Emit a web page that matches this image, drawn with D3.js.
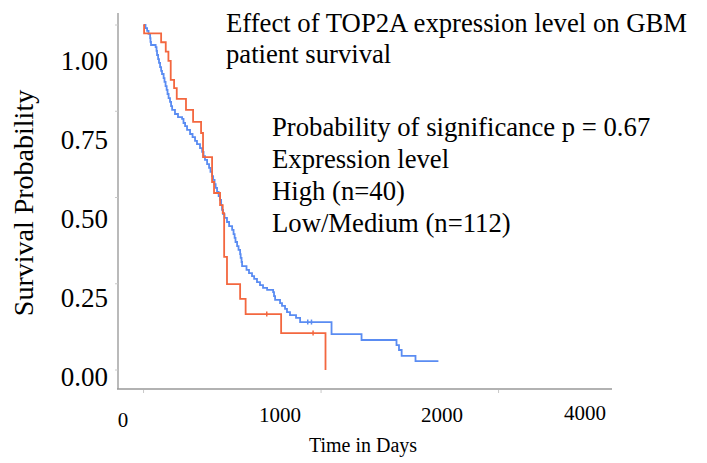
<!DOCTYPE html>
<html>
<head>
<meta charset="utf-8">
<script src="https://cdn.jsdelivr.net/npm/d3@7"></script>
<style>
  html, body { margin: 0; padding: 0; background: #fff; }
  svg { display: block; }
  text { font-family: "Liberation Serif", "Times New Roman", serif; fill: #000; }
</style>
</head>
<body>
<svg id="chart" width="707" height="463"></svg>
<script>
// ---- data ----
const titleLines = ["Effect of TOP2A expression level on GBM", "patient survival"];
const infoLines = ["Probability of significance p = 0.67", "Expression level", "High (n=40)", "Low/Medium (n=112)"];
const yTickValues = [0, 0.25, 0.5, 0.75, 1];
const yTickLabels = ["0.00", "0.25", "0.50", "0.75", "1.00"];
const xTickValues = [0, 1000, 2000];
const xTickLabels = ["0", "1000", "2000", "4000"];

// High expression (red) Kaplan-Meier steps: time (days) and survival after the event
const highTimes = [0, 3, 99, 125, 140, 153, 172, 187, 239, 279, 324, 335, 386, 397, 431, 446, 454, 470, 544, 575, 775, 1025];
const highSurv  = [1, 0.976, 0.95, 0.923, 0.896, 0.841, 0.817, 0.786, 0.754, 0.719, 0.687, 0.617, 0.545, 0.513, 0.478, 0.455, 0.328, 0.249, 0.206, 0.162, 0.107, 0];
const highCensorTimes = [694, 955];

// Low/Medium expression (blue)
const lowTimes = [0, 11, 20, 28, 37, 39, 42, 68, 73, 76, 82, 87, 93, 99, 104, 113, 118, 124, 130, 135, 141, 149, 155, 161, 177, 194, 217, 225, 234, 245, 262, 276, 290, 301, 318, 330, 338, 346, 358, 369, 377, 386, 392, 400, 406, 414, 423, 431, 437, 442, 448, 456, 470, 482, 499, 507, 513, 518, 527, 535, 544, 547, 552, 555, 580, 594, 611, 623, 639, 656, 673, 696, 730, 735, 741, 769, 780, 797, 808, 825, 859, 882, 1059, 1228, 1425, 1439, 1454, 1532, 1661];
const lowSurv  = [1, 0.991, 0.983, 0.974, 0.962, 0.951, 0.942, 0.936, 0.925, 0.913, 0.901, 0.890, 0.878, 0.867, 0.858, 0.846, 0.835, 0.823, 0.812, 0.800, 0.788, 0.777, 0.765, 0.754, 0.742, 0.733, 0.728, 0.716, 0.707, 0.696, 0.684, 0.675, 0.664, 0.655, 0.643, 0.632, 0.620, 0.609, 0.597, 0.586, 0.574, 0.562, 0.551, 0.539, 0.528, 0.516, 0.504, 0.493, 0.478, 0.464, 0.452, 0.441, 0.429, 0.417, 0.406, 0.394, 0.383, 0.371, 0.359, 0.348, 0.336, 0.325, 0.313, 0.301, 0.290, 0.281, 0.272, 0.264, 0.255, 0.246, 0.238, 0.232, 0.226, 0.214, 0.203, 0.194, 0.186, 0.177, 0.168, 0.159, 0.151, 0.139, 0.104, 0.087, 0.072, 0.058, 0.041, 0.026, 0.026];
const lowCensorTimes = [925, 946];

const colHigh = "#f3673f";
const colLow = "#5a8cf2";

// ---- layout ----
const svg = d3.select("#chart");
const x = d3.scaleLinear().domain([-144, 2639]).range([118, 612]);
const y = d3.scaleLinear().domain([0, 1]).range([370, 25]);
// tick labels were set apart from tick marks in the original figure
const yLabelPos = d3.scaleLinear().domain([0, 1]).range([386, 70]);
const xLabelPos = d3.scaleLinear().domain([0, 1000, 2000, 4000]).range([123, 280, 442, 585]);
const xLabelBase = d3.scaleLinear().domain([0, 1000, 2000, 4000]).range([427, 422, 422, 420]);

// axes lines
svg.append("line").attr("x1", 118).attr("x2", 118).attr("y1", 13).attr("y2", 389)
  .attr("stroke", "#a3a3a3").attr("stroke-width", 1.5);
svg.append("line").attr("x1", 117).attr("x2", 612).attr("y1", 389).attr("y2", 389)
  .attr("stroke", "#999").attr("stroke-width", 1.6);

// tick marks
svg.selectAll("line.yt").data(yTickValues).join("line").attr("class", "yt")
  .attr("x1", 115).attr("x2", 118).attr("y1", d => y(d)).attr("y2", d => y(d))
  .attr("stroke", "#c8c8c8").attr("stroke-width", 1);
svg.selectAll("line.xt").data(xTickValues).join("line").attr("class", "xt")
  .attr("x1", d => x(d)).attr("x2", d => x(d)).attr("y1", 390).attr("y2", 393)
  .attr("stroke", "#c8c8c8").attr("stroke-width", 1);

// tick labels
svg.selectAll("text.yl").data(yTickValues).join("text").attr("class", "yl")
  .attr("x", 108).attr("y", d => yLabelPos(d)).attr("text-anchor", "end")
  .style("font-size", "27px")
  .text((d, i) => yTickLabels[i]);
svg.selectAll("text.xl").data(xTickLabels).join("text").attr("class", "xl")
  .attr("x", d => xLabelPos(+d)).attr("y", d => xLabelBase(+d)).attr("text-anchor", "middle")
  .style("font-size", "21px")
  .text(d => d);

// axis titles
svg.append("text").attr("transform", "translate(33,203) rotate(-90)")
  .attr("text-anchor", "middle").style("font-size", "28px").text("Survival Probability");
svg.append("text").attr("x", 363).attr("y", 452).attr("text-anchor", "middle")
  .style("font-size", "20px").text("Time in Days");

// curves
const line = d3.line().x(d => x(d[0])).y(d => y(d[1])).curve(d3.curveStepAfter);
const highPts = highTimes.map((t, i) => [t, highSurv[i]]);
const lowPts = lowTimes.map((t, i) => [t, lowSurv[i]]);

function stepAt(times, surv, t) {
  let s = surv[0];
  for (let i = 0; i < times.length; i++) if (times[i] <= t) s = surv[i];
  return s;
}

svg.append("path").attr("d", line(lowPts)).attr("fill", "none")
  .attr("stroke", colLow).attr("stroke-width", 1.8);
svg.append("path").attr("d", line(highPts)).attr("fill", "none")
  .attr("stroke", colHigh).attr("stroke-width", 1.8);

svg.selectAll("line.lc").data(lowCensorTimes).join("line").attr("class", "lc")
  .attr("x1", d => x(d)).attr("x2", d => x(d))
  .attr("y1", d => y(stepAt(lowTimes, lowSurv, d)) - 2.5)
  .attr("y2", d => y(stepAt(lowTimes, lowSurv, d)) + 2.5)
  .attr("stroke", colLow).attr("stroke-width", 1.5);
svg.selectAll("line.hc").data(highCensorTimes).join("line").attr("class", "hc")
  .attr("x1", d => x(d)).attr("x2", d => x(d))
  .attr("y1", d => y(stepAt(highTimes, highSurv, d)) - 2.5)
  .attr("y2", d => y(stepAt(highTimes, highSurv, d)) + 2.5)
  .attr("stroke", colHigh).attr("stroke-width", 1.5);

// title and info text
svg.selectAll("text.tt").data(titleLines).join("text").attr("class", "tt")
  .attr("x", 226).attr("y", (d, i) => 32 + i * 31)
  .style("font-size", "26.7px").text(d => d);
svg.selectAll("text.info").data(infoLines).join("text").attr("class", "info")
  .attr("x", 272).attr("y", (d, i) => 136 + i * 32)
  .style("font-size", "26.7px").text(d => d);
</script>
</body>
</html>
